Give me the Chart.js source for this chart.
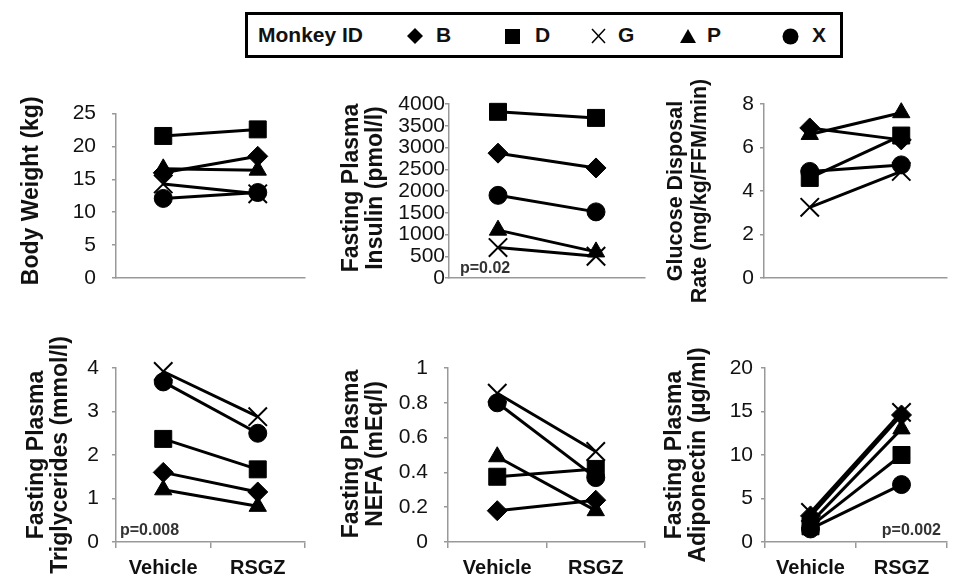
<!DOCTYPE html>
<html><head><meta charset="utf-8">
<script src="https://cdn.jsdelivr.net/npm/chart.js@4"></script>
<style>
html,body{margin:0;padding:0;background:#fff;}
body{width:962px;height:582px;position:relative;overflow:hidden;font-family:"Liberation Sans",Arial,sans-serif;}
canvas{position:absolute;}
#legend{position:absolute;left:245px;top:12px;width:592px;height:40px;border:3px solid #000;}
.lt{position:absolute;top:0;line-height:40px;font-weight:bold;font-size:21px;color:#111;white-space:nowrap;}
#legend svg{position:absolute;top:13px;}
</style></head><body>
<canvas id="c1"></canvas><canvas id="c2"></canvas><canvas id="c3"></canvas>
<canvas id="c4"></canvas><canvas id="c5"></canvas><canvas id="c6"></canvas>
<div id="legend">
  <div class="lt" style="left:10px">Monkey ID</div>
  <svg style="left:159px" width="16" height="16"><polygon points="8,0 16,8 8,16 0,8" fill="#000"/></svg>
  <div class="lt" style="left:188px">B</div>
  <svg style="left:257px" width="15" height="16"><rect x="0" y="1" width="15" height="15" fill="#000"/></svg>
  <div class="lt" style="left:287px">D</div>
  <svg style="left:343px" width="15" height="16"><path d="M1,1 L14,15 M14,1 L1,15" stroke="#000" stroke-width="1.5" fill="none"/></svg>
  <div class="lt" style="left:370px">G</div>
  <svg style="left:432px" width="16" height="16"><polygon points="8,1 16,15 0,15" fill="#000"/></svg>
  <div class="lt" style="left:459px">P</div>
  <svg style="left:534px" width="17" height="17"><circle cx="8.5" cy="8.5" r="8" fill="#000"/></svg>
  <div class="lt" style="left:564px">X</div>
</div>
<script>
// ---- data ----
const categories = ['Vehicle', 'RSGZ'];
const monkeyIds = ['B', 'D', 'G', 'P', 'X'];
// values ordered as monkeyIds: B, D, G, P, X
const bodyWeightVehicle = [16.0, 21.6, 14.3, 16.6, 12.1];
const bodyWeightRSGZ    = [18.5, 22.6, 12.8, 16.4, 13.0];
const insulinVehicle = [2870, 3820, 700, 1100, 1900];
const insulinRSGZ    = [2530, 3680, 500, 600, 1520];
const glucoseVehicle = [6.9, 4.6, 3.25, 6.6, 4.9];
const glucoseRSGZ    = [6.35, 6.55, 4.9, 7.6, 5.2];
const trigVehicle = [1.6, 2.37, 3.92, 1.2, 3.68];
const trigRSGZ    = [1.15, 1.67, 2.88, 0.82, 2.5];
const nefaVehicle = [0.18, 0.375, 0.855, 0.49, 0.80];
const nefaRSGZ    = [0.24, 0.42, 0.52, 0.18, 0.37];
const adipoVehicle = [3.0, 1.8, 3.4, 2.2, 1.5];
const adipoRSGZ    = [14.6, 10.0, 14.9, 13.0, 6.6];
const yTickMax  = [25, 4000, 8, 4, 1, 20];
const yTickStep = [5, 500, 2, 1, 0.2, 5];
const yTitles = [
  ['Body Weight (kg)'],
  ['Fasting Plasma', 'Insulin (pmol/l)'],
  ['Glucose Disposal', 'Rate (mg/kg/FFM/min)'],
  ['Fasting Plasma', 'Triglycerides (mmol/l)'],
  ['Fasting Plasma', 'NEFA (mEq/l)'],
  ['Fasting Plasma', 'Adiponectin (\u00b5g/ml)']
];
const pValues = ['', 'p=0.02', '', 'p=0.008', '', 'p=0.002'];

// ---- styles ----
const FONT = '"Liberation Sans", Arial, sans-serif';
const pointStyles = {B:'rectRot', D:'rect', G:'crossRot', P:'triangle', X:'circle'};
const pointRadii  = {B:10, D:12, G:13, P:10, X:9};

const pPlugin = {
  id: 'pval',
  afterDraw(chart, args, o) {
    if (!o || !o.text) return;
    const {ctx, chartArea: a} = chart;
    ctx.save();
    ctx.font = 'bold 16px ' + FONT;
    ctx.fillStyle = '#333';
    ctx.textAlign = o.align;
    ctx.textBaseline = 'alphabetic';
    const x = o.align === 'right' ? a.right + o.dx : a.left + o.dx;
    ctx.fillText(o.text, x, a.bottom + o.dy);
    ctx.restore();
  }
};
const titlePlugin = {
  id: 'ytitle',
  afterDraw(chart, args, o) {
    if (!o || !o.lines) return;
    const {ctx, chartArea: a} = chart;
    ctx.save();
    ctx.font = 'bold ' + o.size + 'px ' + FONT;
    ctx.fillStyle = '#111';
    ctx.textAlign = 'center';
    ctx.textBaseline = 'middle';
    const cy = (a.top + a.bottom) / 2 + o.dy;
    o.lines.forEach((t, j) => {
      ctx.save();
      ctx.translate(o.x + j * o.lh, cy);
      ctx.rotate(-Math.PI / 2);
      ctx.fillText(t, 0, 0);
      ctx.restore();
    });
    ctx.restore();
  }
};

const panels = [
  {id:'c1', L:0,   T:85,  Wc:320, Hc:245, axisX:116, W:200, yTop:104, yBot:278, vals:[bodyWeightVehicle, bodyWeightRSGZ], tx:31.5, tdy:-5, tfs:23, lpad:16, xl:false},
  {id:'c2', L:320, T:85,  Wc:340, Hc:245, axisX:449, W:200, yTop:104, yBot:278, vals:[insulinVehicle, insulinRSGZ], tx:31.5, tdy:-3, tfs:23, lpad:0, xl:false, p:{align:'left', dx:11, dy:-5}},
  {id:'c3', L:640, T:62,  Wc:322, Hc:268, axisX:764, W:196, yTop:104, yBot:278, vals:[glucoseVehicle, glucoseRSGZ], tx:36.5, tdy:0, tfs:21.5, lpad:6, xl:false},
  {id:'c4', L:0,   T:320, Wc:320, Hc:262, axisX:116, W:200, yTop:368, yBot:542, vals:[trigVehicle, trigRSGZ], tx:36.5, tdy:0, tfs:23, lpad:13, xl:true, p:{align:'left', dx:4, dy:-7}},
  {id:'c5', L:320, T:320, Wc:340, Hc:262, axisX:448, W:200, yTop:368, yBot:542, vals:[nefaVehicle, nefaRSGZ], tx:31.5, tdy:-1, tfs:23, lpad:16, xl:true},
  {id:'c6', L:640, T:320, Wc:322, Hc:262, axisX:765, W:196, yTop:368, yBot:542, vals:[adipoVehicle, adipoRSGZ], tx:34.5, tdy:0, tfs:23, lpad:8, xl:true, p:{align:'right', dx:-6, dy:-7}}
];

panels.forEach((P, i) => {
  const cv = document.getElementById(P.id);
  cv.width = P.Wc; cv.height = P.Hc;
  cv.style.left = P.L + 'px'; cv.style.top = P.T + 'px';
  cv.style.width = P.Wc + 'px'; cv.style.height = P.Hc + 'px';
  const yW = P.axisX - P.L;
  const xH = (P.T + P.Hc) - P.yBot;
  const datasets = monkeyIds.map((m, k) => ({
    label: m,
    data: [P.vals[0][k], P.vals[1][k]],
    borderColor: '#000',
    backgroundColor: '#000',
    borderWidth: 3,
    pointStyle: pointStyles[m],
    pointRadius: pointRadii[m],
    pointHoverRadius: pointRadii[m],
    pointBackgroundColor: '#000',
    pointBorderColor: '#000',
    pointBorderWidth: m === 'G' ? 2 : 1,
    clip: false,
    tension: 0
  }));
  const pOpt = P.p ? Object.assign({text: pValues[i]}, P.p) : {};
  new Chart(cv, {
    type: 'line',
    data: {labels: categories, datasets},
    plugins: [pPlugin, titlePlugin],
    options: {
      responsive: false,
      animation: false,
      devicePixelRatio: 1,
      layout: {padding: {left: 0, top: P.yTop - P.T, right: P.Wc - yW - P.W, bottom: 0}},
      plugins: {
        legend: {display: false}, tooltip: {enabled: false},
        pval: pOpt,
        ytitle: {lines: yTitles[i], x: P.tx, lh: 24, dy: P.tdy, size: P.tfs}
      },
      scales: {
        x: {
          type: 'category',
          offset: true,
          afterFit: s => { s.height = xH; },
          grid: {display: P.xl, offset: true, drawOnChartArea: false, drawTicks: true, tickLength: 6, color: '#999', lineWidth: 1.5},
          border: {display: true, color: '#999', width: 1.5},
          ticks: {display: P.xl, color: '#111', padding: 8, font: {family: FONT, size: 20, weight: 'bold'}, maxRotation: 0, autoSkip: false}
        },
        y: {
          min: 0, max: yTickMax[i],
          afterFit: s => { s.width = yW; },
          grid: {drawOnChartArea: false, drawTicks: true, tickLength: 4, color: '#999', lineWidth: 1.5},
          border: {display: true, color: '#999', width: 1.5},
          ticks: {stepSize: yTickStep[i], autoSkip: false, color: '#111', padding: P.lpad, font: {family: FONT, size: 21},
                  callback: v => String(+Number(v).toFixed(2))}
        }
      }
    }
  });
});
</script>
</body></html>
